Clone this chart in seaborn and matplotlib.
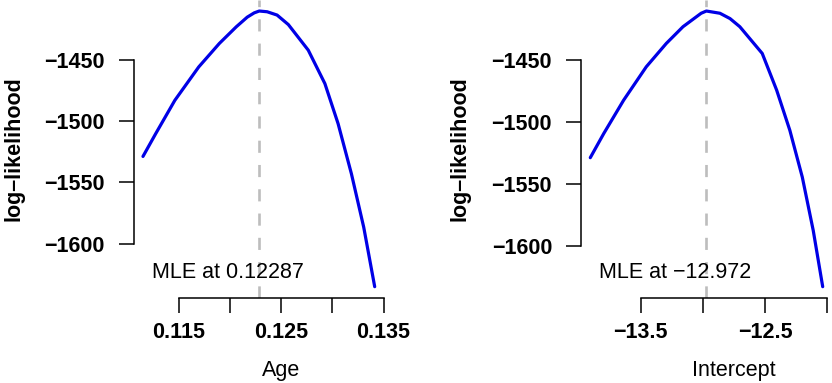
import numpy as np
import pandas as pd
import matplotlib
matplotlib.use("Agg")
import matplotlib.pyplot as plt
import matplotlib.transforms as mtransforms
import seaborn as sns

# profile log-likelihood curves
age_x = [0.11153, 0.11277, 0.11464, 0.11697, 0.11898, 0.12063, 0.12170, 0.12238, 0.12287,
         0.12364, 0.12461, 0.12571, 0.12765, 0.12927, 0.13056, 0.13186, 0.13306, 0.13413]
age_ll = [-1528.7, -1510.1, -1482.8, -1455.5, -1436.3, -1422.7, -1414.8, -1411.3, -1409.8,
          -1410.4, -1413.1, -1420.9, -1441.8, -1469.1, -1501.9, -1542.9, -1586.6, -1635.2]
age_mle = 0.12287
age_ticks = [0.115, 0.120, 0.125, 0.130, 0.135]
age_labels = ["0.115", "", "0.125", "", "0.135"]

int_x = [-13.905, -13.797, -13.637, -13.455, -13.294, -13.160, -13.014, -12.972,
         -12.863, -12.782, -12.703, -12.523, -12.407, -12.301, -12.201, -12.113, -12.037]
int_ll = [-1528.9, -1509.4, -1482.4, -1455.4, -1436.5, -1423.0, -1412.1, -1410.3,
          -1412.1, -1416.4, -1423.0, -1444.6, -1474.3, -1506.8, -1544.6, -1587.8, -1633.2]
int_mle = -12.972
int_ticks = [-13.5, -13.0, -12.5, -12.0]
int_labels = ["\u221213.5", "", "\u221212.5", ""]

ll_ticks = [-1600, -1550, -1500, -1450]
ll_labels = ["\u22121600", "\u22121550", "\u22121500", "\u22121450"]

sns.set_style("ticks")
plt.rcParams["font.family"] = ["Liberation Sans", "DejaVu Sans"]
for k in ["text.color", "axes.labelcolor", "xtick.color", "ytick.color"]:
    plt.rcParams[k] = "black"

fig = plt.figure(figsize=(8.32, 3.83), dpi=100)
ax1 = fig.add_axes([0.1607, 0.2227, 0.3008, 0.7773])
ax2 = fig.add_axes([0.6983, 0.2227, 0.3017, 0.7773])

panels = [
    (ax1, age_x, age_ll, age_mle, "Age", "MLE at 0.12287", age_ticks, age_labels),
    (ax2, int_x, int_ll, int_mle, "Intercept", "MLE at \u221212.972", int_ticks, int_labels),
]

for ax, xs, ll, mle, xlab, note, xt, xtl in panels:
    df = pd.DataFrame({"x": xs, "ll": ll})
    sns.lineplot(data=df, x="x", y="ll", ax=ax, color="#0000e6", lw=2.3,
                 estimator=None, sort=True, solid_joinstyle="round")
    ax.margins(x=0.04, y=0.04)
    ax.axvline(mle, color="#bdbdbd", lw=1.9, dashes=(4.6, 4.6))

    ax.set_xticks(xt)
    ax.set_xticklabels(xtl, fontweight="bold", fontsize=15.5)
    ax.set_yticks(ll_ticks)
    ax.set_yticklabels(ll_labels, fontweight="bold", fontsize=15.5)
    ax.tick_params(axis="both", length=10.8, width=1.1, color="black",
                   direction="out", bottom=True, left=True)
    ax.tick_params(axis="x", pad=7)
    ax.tick_params(axis="y", pad=10)

    sns.despine(ax=ax, trim=True)
    for s in ["left", "bottom"]:
        ax.spines[s].set_linewidth(1.1)
        ax.spines[s].set_color("black")

    ax.set_ylabel("log\u2013likelihood", fontweight="bold", fontsize=15.5, va="center")
    ax.yaxis.set_label_coords(-0.48, 0.5)
    ax.set_xlabel(xlab, fontsize=15.5, va="center")
    trans = mtransforms.blended_transform_factory(ax.transData, ax.transAxes)
    ax.xaxis.set_label_coords((xt[0] + xt[-1]) / 2, -0.246, transform=trans)

    ax.text(0.072, 0.067, note, transform=ax.transAxes, fontsize=15.5,
            ha="left", va="baseline")

fig.savefig("out.png", dpi=100)
